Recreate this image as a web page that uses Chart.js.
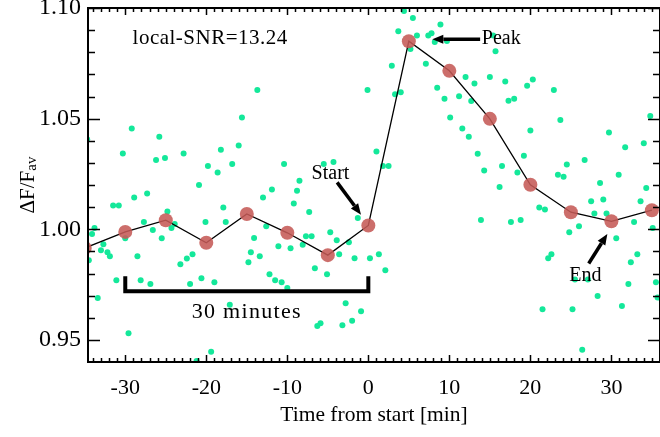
<!DOCTYPE html>
<html>
<head>
<meta charset="utf-8">
<script src="https://cdn.jsdelivr.net/npm/chart.js@4.4.1/dist/chart.umd.min.js"></script>
<style>
  html, body { margin: 0; padding: 0; background: #fff; }
  #wrap { width: 660px; height: 437px; }
</style>
</head>
<body>
<div id="wrap"><canvas id="chart" width="660" height="437"></canvas></div>
<script>
// axis ranges and tick labels
const X_MIN = -34.6, X_MAX = 36;
const Y_MIN = 0.94, Y_MAX = 1.10;
const xTicks = [-30, -20, -10, 0, 10, 20, 30];
const yTicks = [0.95, 1.00, 1.05, 1.10];

// binned (5 min) light curve
const binTime = [-35, -30, -25, -20, -15, -10, -5, 0, 5, 10, 15, 20, 25, 30, 35];
const binFlux = [0.9915, 0.9988, 1.0041, 0.9939, 1.0069, 0.9984, 0.9883, 1.0017,
                 1.0850, 1.0716, 1.0499, 1.0201, 1.0077, 1.0036, 1.0086];

// raw samples
const rawTime = [
  -34.7, -29.2, -30.3, -25.8, -26.2, -25.1, -22.8, -19.8, -18.6, -18.2,
  -20.9, -28.9, -27.3, -31.5, -30.8, -17.9, -33.8, -34.1, -30.0, -27.7,
  -26.6, -24.8, -23.9, -24.3, -25.5, -20.1, -17.6, -32.7, -33.0, -32.2,
  -31.9, -34.5, -28.5, -23.2, -22.4, -21.7, -31.1, -28.1, -26.9, -22.0,
  -20.6, -19.0, -33.4, -29.6, -17.1, -19.4, -21.2,
  -15.6, -16.0, -16.8, -10.4, -5.5, -4.3, -8.5, -11.9, -8.8, -13.0,
  -9.2, -7.3, -12.6, -14.1, -11.1, -9.6, -8.1, -7.7, -7.0, -4.7,
  -3.9, -2.4, -3.6, -14.5, -13.4, -14.8, -6.6, -5.1, -1.7, -12.2,
  -11.5, -10.7, -10.0, -2.8, -0.9, -2.0, -3.2, -5.9, -6.3, -1.3,
  0.2, -13.7, -0.1,
  1.0, 1.8, 2.5, 1.3, 2.1, 4.4, 5.5, 8.9, 3.7, 6.0,
  7.4, 7.8, 8.2, 9.7, 5.2, 15.4, 15.7, 2.9, 7.1, 8.5,
  9.4, 12.0, 13.1, 11.2, 12.7, 15.0, 16.9, 19.6, 20.3, 17.3,
  18.0, 22.9, 3.3, 4.0, 10.1, 11.6, 12.4, 13.5, 14.3, 16.5,
  18.4, 19.2, 20.0, 23.7, 24.5, 23.4, 24.1, 26.7, 28.6, 30.9,
  29.7, 31.7, 34.0, 34.8, 16.2, 34.3, 13.9, 17.6, 18.8, 21.1,
  21.8, 27.5, 29.0, 27.9, 29.4, 33.6, 32.8, 35.1, 24.8, 26.0,
  30.6, 33.2, 32.4, 22.6, 22.2, 32.1, 35.5, 35.7, 28.3, 31.3,
  21.5, 25.2, 26.4, 25.5, 27.1
];
const rawFlux = [
  1.0407, 1.0455, 1.0342, 1.0418, 1.0313, 1.0322, 1.0342, 1.0286, 1.0257, 1.0359,
  1.0200, 1.0144, 1.0162, 1.0107, 1.0107, 1.0098, 1.0006, 0.9979, 0.9959, 1.0033,
  0.9997, 1.0080, 1.0024, 1.0006, 0.9959, 1.0033, 1.0033, 0.9932, 0.9905, 0.9896,
  0.9878, 0.9860, 0.9878, 0.9842, 0.9868, 0.9887, 0.9770, 0.9770, 0.9752, 0.9752,
  0.9779, 0.9761, 0.9689, 0.9530, 0.9659, 0.9446, 0.9405,
  1.0505, 1.0378, 1.0295, 1.0295, 1.0295, 1.0304, 1.0219, 1.0180, 1.0174, 1.0144,
  1.0116, 1.0078, 1.0014, 0.9961, 0.9923, 0.9914, 0.9930, 0.9968, 0.9968, 0.9986,
  0.9950, 0.9941, 0.9887, 0.9896, 0.9878, 0.9851, 0.9824, 0.9797, 0.9869, 0.9797,
  0.9770, 0.9761, 0.9734, 0.9665, 0.9629, 0.9586, 0.9566, 0.9575, 0.9563, 1.0051,
  0.9869, 1.0629, 1.0629,
  1.0351, 1.0286, 1.0286, 0.9887, 0.9815, 1.0986, 1.0955, 1.0925, 1.0895, 1.0876,
  1.0876, 1.0886, 1.0846, 1.0851, 1.0815, 1.0876, 1.0805, 1.0739, 1.0748, 1.0640,
  1.0590, 1.0688, 1.0659, 1.0601, 1.0580, 1.0688, 1.0668, 1.0649, 1.0677, 1.0581,
  1.0590, 1.0629, 1.0610, 1.0619, 1.0505, 1.0455, 1.0418, 1.0341, 1.0266, 1.0286,
  1.0257, 1.0332, 1.0446, 1.0494, 1.0293, 1.0246, 1.0237, 1.0313, 1.0209, 1.0246,
  1.0437, 1.0371, 1.0389, 1.0512, 1.0191, 1.0186, 1.0042, 1.0033, 1.0042, 1.0098,
  1.0089, 1.0126, 1.0135, 1.0071, 1.0071, 1.0126, 1.0033, 1.0006, 0.9986, 1.0014,
  0.9959, 0.9887, 0.9851, 0.9887, 0.9869, 0.9752, 0.9761, 0.9691, 0.9698, 0.9653,
  0.9638, 0.9638, 0.9455, 0.9773, 0.9773
];

const FONT = '"Liberation Serif", "DejaVu Serif", serif';

// IDL-like frame: box with ticks pointing inward on all four sides
const framePlugin = {
  id: 'frame',
  afterDatasetsDraw(chart) {
    const { ctx, chartArea: a, scales: { x, y } } = chart;
    ctx.save();
    ctx.strokeStyle = '#000';
    ctx.lineWidth = 1.5;
    ctx.beginPath();
    for (let v = -34; v <= 36; v++) {
      const px = Math.round(x.getPixelForValue(v)) + 0.5;
      const len = v % 10 === 0 ? 7 : 4;
      ctx.moveTo(px, a.bottom); ctx.lineTo(px, a.bottom - len);
      ctx.moveTo(px, a.top); ctx.lineTo(px, a.top + len);
    }
    for (let i = 95; i <= 110; i++) {
      const py = Math.round(y.getPixelForValue(i / 100)) + 0.5;
      const len = i % 5 === 0 ? 12 : 7;
      ctx.moveTo(a.left, py); ctx.lineTo(a.left + len, py);
      ctx.moveTo(a.right, py); ctx.lineTo(a.right - len, py);
    }
    ctx.stroke();
    ctx.lineWidth = 2;
    ctx.strokeRect(a.left, a.top, a.right - a.left, a.bottom - a.top);
    ctx.restore();
  }
};

function arrow(ctx, x0, y0, x1, y1) {
  const ang = Math.atan2(y1 - y0, x1 - x0);
  const hl = 11, hw = 4.5;
  const bx = x1 - hl * Math.cos(ang), by = y1 - hl * Math.sin(ang);
  ctx.beginPath();
  ctx.moveTo(x0, y0); ctx.lineTo(bx, by);
  ctx.lineWidth = 3.5;
  ctx.stroke();
  ctx.beginPath();
  ctx.moveTo(x1, y1);
  ctx.lineTo(bx + hw * Math.sin(ang), by - hw * Math.cos(ang));
  ctx.lineTo(bx - hw * Math.sin(ang), by + hw * Math.cos(ang));
  ctx.closePath();
  ctx.fill();
}

// labels, arrows, the 30 minute bracket and axis titles
const notesPlugin = {
  id: 'notes',
  afterDraw(chart) {
    const { ctx, chartArea: a, scales: { x, y } } = chart;
    const X = v => x.getPixelForValue(v), Y = v => y.getPixelForValue(v);
    ctx.save();
    ctx.fillStyle = '#000';
    ctx.strokeStyle = '#000';
    ctx.textBaseline = 'alphabetic';

    ctx.font = '21px ' + FONT;
    ctx.letterSpacing = '0.5px';
    ctx.fillText('local-SNR=13.24', X(-29.1), Y(1.0836));
    ctx.letterSpacing = '0px';

    ctx.font = '20px ' + FONT;
    ctx.fillText('Start', X(-7.0), Y(1.0228));
    ctx.fillText('Peak', X(14.0), Y(1.0837));
    ctx.fillText('End', X(24.8), Y(0.9764));

    arrow(ctx, X(-3.85), Y(1.0212), X(-0.9), Y(1.0066));
    arrow(ctx, X(13.8), Y(1.0859), X(7.9), Y(1.0859));
    arrow(ctx, X(27.2), Y(0.9845), X(29.5), Y(0.9979));

    // 30 minutes bracket
    ctx.lineWidth = 4;
    ctx.lineCap = 'butt';
    ctx.beginPath();
    ctx.moveTo(X(-30), Y(0.9788));
    ctx.lineTo(X(-30), Y(0.9720));
    ctx.lineTo(X(0), Y(0.9720));
    ctx.lineTo(X(0), Y(0.9788));
    ctx.stroke();
    ctx.font = '22px ' + FONT;
    ctx.textAlign = 'center';
    ctx.letterSpacing = '1.3px';
    ctx.fillText('30 minutes', X(-15), Y(0.9601));
    ctx.letterSpacing = '0px';

    // x title
    ctx.font = '21.5px ' + FONT;
    ctx.fillText('Time from start [min]', (a.left + a.right) / 2, 421);

    // y title with subscript
    ctx.translate(34, (a.top + a.bottom) / 2);
    ctx.rotate(-Math.PI / 2);
    ctx.textAlign = 'left';
    ctx.font = '21px ' + FONT;
    const main = 'ΔF/F';
    const w1 = ctx.measureText(main).width;
    ctx.font = '15px ' + FONT;
    const w2 = ctx.measureText('av').width;
    const sx = -(w1 + w2) / 2;
    ctx.font = '21px ' + FONT;
    ctx.fillText(main, sx, 0);
    ctx.font = '15px ' + FONT;
    ctx.fillText('av', sx + w1, 2);
    ctx.restore();
  }
};

const rawPts = rawTime.map((t, i) => ({ x: t, y: rawFlux[i] }));
const binPts = binTime.map((t, i) => ({ x: t, y: binFlux[i] }));

new Chart(document.getElementById('chart'), {
  type: 'scatter',
  data: {
    datasets: [
      {
        label: 'binned',
        data: binPts,
        order: 0,
        clip: 0,
        pointRadius: 7,
        pointHoverRadius: 7,
        pointBackgroundColor: 'rgba(197, 90, 86, 0.88)',
        pointBorderWidth: 0
      },
      {
        label: 'curve',
        type: 'line',
        data: binPts,
        order: 1,
        clip: 0,
        borderColor: '#000',
        borderWidth: 1.3,
        pointRadius: 0,
        fill: false,
        tension: 0
      },
      {
        label: 'raw',
        data: rawPts,
        order: 2,
        clip: 0,
        pointRadius: 3,
        pointHoverRadius: 3,
        pointBackgroundColor: '#14e89a',
        pointBorderWidth: 0
      }
    ]
  },
  options: {
    responsive: false,
    devicePixelRatio: 1,
    animation: false,
    events: [],
    layout: { autoPadding: false, padding: { top: 8, left: 0, right: 0, bottom: 0 } },
    plugins: { legend: { display: false }, tooltip: { enabled: false } },
    scales: {
      x: {
        type: 'linear',
        min: X_MIN,
        max: X_MAX,
        afterBuildTicks: s => { s.ticks = xTicks.map(v => ({ value: v })); },
        afterFit: s => { s.height = 75; s.paddingLeft = 0; s.paddingRight = 0; },
        grid: { drawOnChartArea: false, drawTicks: false },
        border: { display: false },
        ticks: {
          color: '#000',
          font: { family: FONT, size: 22 },
          padding: 13,
          maxRotation: 0,
          autoSkip: false
        }
      },
      y: {
        type: 'linear',
        min: Y_MIN,
        max: Y_MAX,
        afterBuildTicks: s => { s.ticks = yTicks.map(v => ({ value: v })); },
        afterFit: s => { s.width = 88; s.paddingTop = 0; s.paddingBottom = 0; },
        grid: { drawOnChartArea: false, drawTicks: false },
        border: { display: false },
        ticks: {
          color: '#000',
          font: { family: FONT, size: 24 },
          padding: 7,
          autoSkip: false,
          callback: v => v.toFixed(2)
        }
      }
    }
  },
  plugins: [framePlugin, notesPlugin]
});
</script>
</body>
</html>
